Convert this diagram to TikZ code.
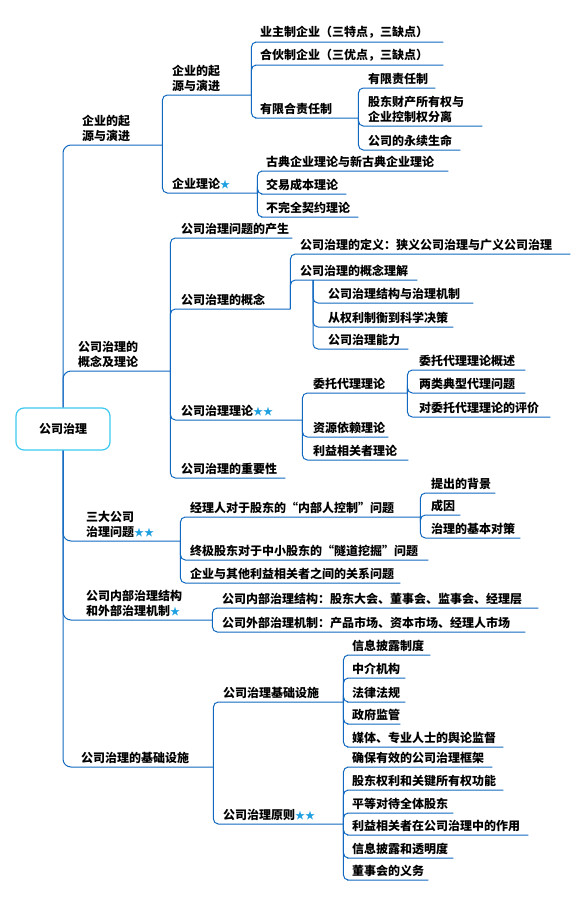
\documentclass[tikz,border=0pt]{standalone}
\usepackage{fontspec}
\setmainfont{Noto Sans CJK SC}
\definecolor{xian}{RGB}{16,104,192}
\definecolor{kuang}{RGB}{60,200,240}
\definecolor{xingse}{RGB}{30,160,225}
\newcommand\hstar{{\color{xingse}\fontsize{10pt}{10pt}\selectfont ★}}
\begin{document}
\begin{tikzpicture}[x=1pt, y=-1pt,
    leaf/.style={anchor=south west, inner xsep=0pt, inner ysep=3pt, align=left,
      font=\bfseries\fontsize{12pt}{15pt}\selectfont},
    branch/.style={draw=xian, line width=1pt, rounded corners=5pt},
    rootbox/.style={draw=kuang, line width=1.2pt, rounded corners=8pt,
      minimum width=94pt, minimum height=42pt, font=\bfseries\fontsize{12pt}{15pt}\selectfont}]
  \useasboundingbox (0,0) rectangle (572,900);
  \node[rootbox] (root) at (63,429) {公司治理};
  % first level
  \node[leaf, text width=80pt] (qy) at (82,145) {企业的起\\源与演进};
  \node[leaf, text width=92pt] (gz) at (78,371) {公司治理的\\概念及理论};
  \node[leaf, text width=94pt] (sd) at (86,541) {三大公司\\治理问题\hstar\hstar};
  \node[leaf, text width=126pt] (nw) at (86,620) {公司内部治理结构\\和外部治理机制\hstar};
  \node[leaf, text width=132pt] (jc) at (81,767) {公司治理的基础设施};
  % 企业的起源与演进
  \node[leaf, text width=79pt] (qy1) at (172,95) {企业的起\\源与演进};
  \node[leaf, text width=85pt] (qy2) at (172,193) {企业理论\hstar};
  \node[leaf, text width=183pt] (qy11) at (260,42) {业主制企业（三特点，三缺点）};
  \node[leaf, text width=183pt] (qy12) at (260,65) {合伙制企业（三优点，三缺点）};
  \node[leaf, text width=98pt] (qy13) at (260,118) {有限合责任制};
  \node[leaf, text width=67pt] (qy131) at (368,88) {有限责任制};
  \node[leaf, text width=114pt] (qy132) at (368,126) {股东财产所有权与\\企业控制权分离};
  \node[leaf, text width=92pt] (qy133) at (368,150) {公司的永续生命};
  \node[leaf, text width=182pt] (qy21) at (266,171) {古典企业理论与新古典企业理论};
  \node[leaf, text width=80pt] (qy22) at (266,194) {交易成本理论};
  \node[leaf, text width=92pt] (qy23) at (266,217) {不完全契约理论};
  % 公司治理的概念及理论
  \node[leaf, text width=111pt] (gz1) at (181,238) {公司治理问题的产生};
  \node[leaf, text width=109pt] (gz2) at (181,309) {公司治理的概念};
  \node[leaf, text width=121pt] (gz3) at (181,420) {公司治理理论\hstar\hstar};
  \node[leaf, text width=104pt] (gz4) at (181,478) {公司治理的重要性};
  \node[leaf, text width=270pt] (gz21) at (300,254) {公司治理的定义：狭义公司治理与广义公司治理};
  \node[leaf, text width=117pt] (gz22) at (300,280) {公司治理的概念理解};
  \node[leaf, text width=145pt] (gz221) at (328,303) {公司治理结构与治理机制};
  \node[leaf, text width=125pt] (gz222) at (328,327) {从权利制衡到科学决策};
  \node[leaf, text width=80pt] (gz223) at (328,349) {公司治理能力};
  \node[leaf, text width=94pt] (gz31) at (313,393) {委托代理理论};
  \node[leaf, text width=75pt] (gz32) at (313,437) {资源依赖理论};
  \node[leaf, text width=95pt] (gz33) at (313,460) {利益相关者理论};
  \node[leaf, text width=106pt] (gz311) at (419,370) {委托代理理论概述};
  \node[leaf, text width=106pt] (gz312) at (419,393) {两类典型代理问题};
  \node[leaf, text width=131pt] (gz313) at (419,417) {对委托代理理论的评价};
  % 三大公司治理问题
  \node[leaf, text width=230pt] (sd1) at (190,517) {经理人对于股东的“内部人控制”问题};
  \node[leaf, text width=238pt] (sd2) at (190,560) {终极股东对于中小股东的“隧道挖掘”问题};
  \node[leaf, text width=210pt] (sd3) at (190,583) {企业与其他利益相关者之间的关系问题};
  \node[leaf, text width=64pt] (sd11) at (431,493) {提出的背景};
  \node[leaf, text width=29pt] (sd12) at (431,515) {成因};
  \node[leaf, text width=89pt] (sd13) at (431,538) {治理的基本对策};
  % 内部治理结构和外部治理机制
  \node[leaf, text width=316pt] (nw1) at (222,608) {公司内部治理结构：股东大会、董事会、监事会、经理层};
  \node[leaf, text width=303pt] (nw2) at (222,632) {公司外部治理机制：产品市场、资本市场、经理人市场};
  % 公司治理的基础设施
  \node[leaf, text width=120pt] (jc1) at (223,702) {公司治理基础设施};
  \node[leaf, text width=120pt] (jc2) at (223,824) {公司治理原则\hstar\hstar};
  \node[leaf, text width=78pt] (jc11) at (352,655) {信息披露制度};
  \node[leaf, text width=53pt] (jc12) at (352,678) {中介机构};
  \node[leaf, text width=53pt] (jc13) at (352,702) {法律法规};
  \node[leaf, text width=48pt] (jc14) at (352,724) {政府监管};
  \node[leaf, text width=151pt] (jc15) at (352,747) {媒体、专业人士的舆论监督};
  \node[leaf, text width=140pt] (jc21) at (352,767) {确保有效的公司治理框架};
  \node[leaf, text width=151pt] (jc22) at (352,790) {股东权利和关键所有权功能};
  \node[leaf, text width=101pt] (jc23) at (352,813) {平等对待全体股东};
  \node[leaf, text width=176pt] (jc24) at (352,835) {利益相关者在公司治理中的作用};
  \node[leaf, text width=101pt] (jc25) at (352,858) {信息披露和透明度};
  \node[leaf, text width=76pt] (jc26) at (352,880) {董事会的义务};
  % connectors
  \foreach \c in {qy,gz}
    \draw[branch, rounded corners=8pt] (root.north) |- (\c.south west) -- (\c.south east);
  \foreach \c in {sd,nw,jc}
    \draw[branch, rounded corners=8pt] (root.south) |- (\c.south west) -- (\c.south east);
  \foreach \p/\c in {qy/qy1, qy/qy2, qy1/qy11, qy1/qy12, qy1/qy13,
      qy13/qy131, qy13/qy132, qy13/qy133, qy2/qy21, qy2/qy22, qy2/qy23,
      gz/gz1, gz/gz2, gz/gz3, gz/gz4, gz2/gz21, gz2/gz22,
      gz3/gz31, gz3/gz32, gz3/gz33, gz31/gz311, gz31/gz312, gz31/gz313,
      sd/sd1, sd/sd2, sd/sd3, sd1/sd11, sd1/sd12, sd1/sd13, nw/nw1, nw/nw2,
      jc/jc1, jc/jc2, jc1/jc11, jc1/jc12, jc1/jc13, jc1/jc14, jc1/jc15,
      jc2/jc21, jc2/jc22, jc2/jc23, jc2/jc24, jc2/jc25, jc2/jc26}
    \draw[branch] (\p.south east) |- (\c.south west) -- (\c.south east);
  \foreach \c in {gz221,gz222,gz223}
    \draw[branch] ([xshift=13pt]gz22.south west) |- (\c.south west) -- (\c.south east);
\end{tikzpicture}
\end{document}
